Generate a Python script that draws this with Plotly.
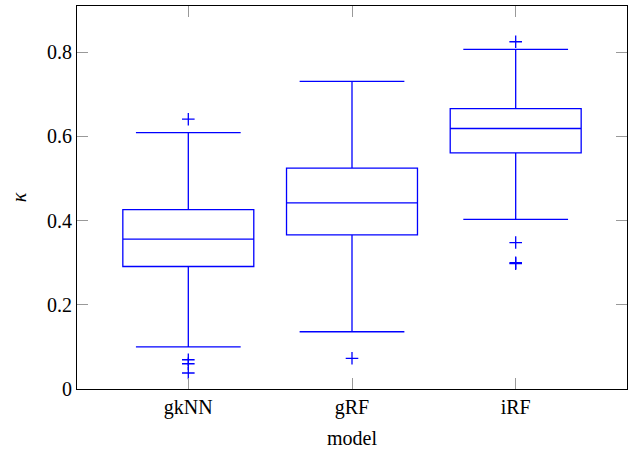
import plotly.graph_objects as go

models = ["gkNN", "gRF", "iRF"]
q1 = [0.291, 0.366, 0.561]
median = [0.356, 0.442, 0.619]
q3 = [0.426, 0.525, 0.666]
lower_whisker = [0.100, 0.136, 0.403]
upper_whisker = [0.609, 0.731, 0.807]

outlier_models = ["gkNN", "gkNN", "gkNN", "gkNN", "gRF", "iRF", "iRF", "iRF", "iRF"]
outlier_values = [0.641, 0.0695, 0.060, 0.038, 0.073, 0.825, 0.348, 0.300, 0.298]

y_ticks = [0, 0.2, 0.4, 0.6, 0.8]
y_tick_labels = ["0", "0.2", "0.4", "0.6", "0.8"]

blue = "#0000ff"
font_family = "Liberation Serif, DejaVu Serif, serif"

fig = go.Figure()
fig.add_trace(go.Box(
    x=models, q1=q1, median=median, q3=q3,
    lowerfence=lower_whisker, upperfence=upper_whisker,
    boxpoints=False, width=0.8, whiskerwidth=0.8,
    line=dict(color=blue, width=1.3), fillcolor="rgba(0,0,0,0)",
    showlegend=False,
))
fig.add_trace(go.Scatter(
    x=outlier_models, y=outlier_values, mode="markers",
    marker=dict(symbol="cross-thin", size=9, line=dict(color=blue, width=1.3), color=blue),
    showlegend=False,
))

axis_common = dict(
    showgrid=False, zeroline=False, showline=True, linecolor="black", linewidth=1.2,
    mirror="allticks", ticks="inside", ticklen=11, tickcolor="#999999", tickwidth=1,
    tickfont=dict(family=font_family, size=20, color="black"),
)
fig.update_xaxes(
    type="category", categoryorder="array", categoryarray=models,
    range=[-0.68, 2.68],
    title=dict(text="model", font=dict(family=font_family, size=20, color="black"), standoff=12),
    **axis_common,
)
fig.update_yaxes(
    range=[0, 0.91], tickvals=y_ticks, ticktext=y_tick_labels,
    title=dict(text="<i>κ</i>", font=dict(family=font_family, size=20, color="black"), standoff=14),
    **axis_common,
)
fig.update_layout(
    width=638, height=454,
    margin=dict(l=77, r=11, t=6, b=65, autoexpand=False),
    plot_bgcolor="white", paper_bgcolor="white",
)
fig.write_html(
    "out.html",
    config={"displayModeBar": False},
    post_script="document.body.style.margin='0';document.body.style.overflow='hidden';",
)
